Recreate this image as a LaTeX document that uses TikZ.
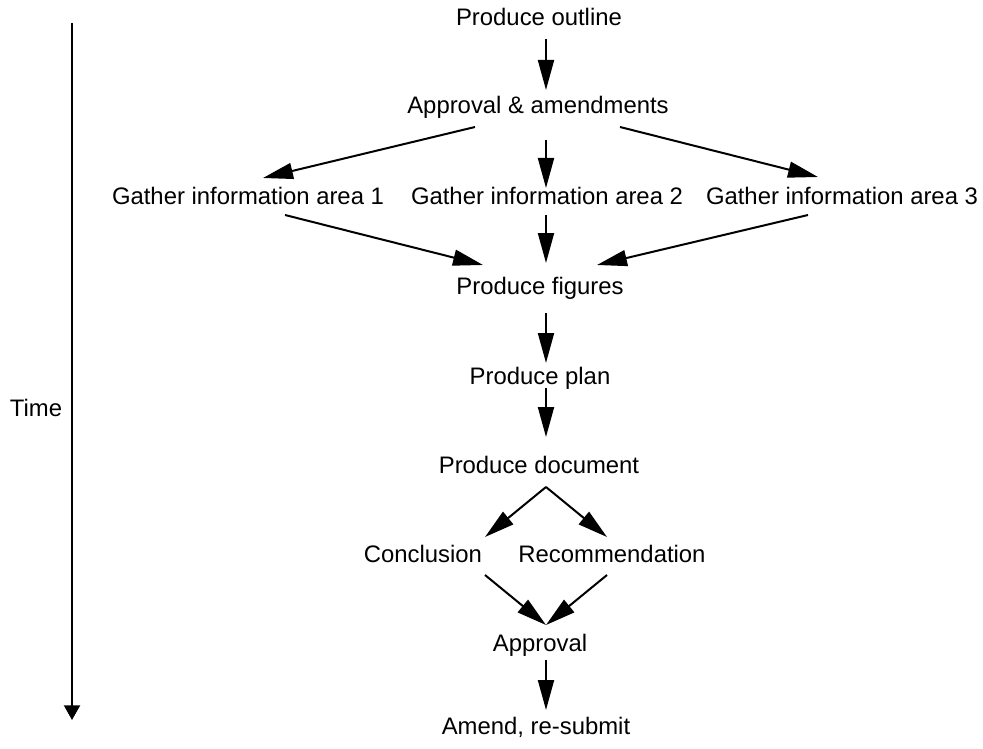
\documentclass[tikz,border=0pt]{standalone}
\usepackage{fontspec}
\setmainfont{Liberation Sans}
\usepackage{tikz}
\usetikzlibrary{arrows.meta}

\begin{document}
\begin{tikzpicture}[x=0.75pt,y=-0.75pt,
  stage/.style={inner sep=0pt,text height=1.13em,text depth=0pt,
    font=\fontsize{17.9}{20}\selectfont},
  flow/.style={line width=1.5pt,-{Triangle[length=22.5pt,width=12pt]}}]
\useasboundingbox (0,0) rectangle (983,749);
% the time line
\coordinate (t0) at (72,23);
\coordinate (t1) at (72,720);
\draw[line width=1.5pt,-{Triangle[length=11pt,width=12pt]}] (t0) -- (t1);
\node[stage] (time) at (36,409) {Time};
% the stages
\node[stage] (outline) at (539,17.5) {Produce outline};
\node[stage] (appr) at (538,106) {Approval \& amendments};
\node[stage] (g1) at (248,197) {Gather information area 1};
\node[stage] (g2) at (547,197) {Gather information area 2};
\node[stage] (g3) at (842,197) {Gather information area 3};
\node[stage] (figs) at (540,287) {Produce figures};
\node[stage] (plan) at (540,377) {Produce plan};
\node[stage] (doc) at (539,466) {Produce document};
\node[stage] (concl) at (423,555) {Conclusion};
\node[stage] (recom) at (612,555) {Recommendation};
\node[stage] (apprv) at (540,644) {Approval};
\node[stage] (amend) at (536,727) {Amend, re-submit};
% the arrows
\draw[flow] ([shift={(7,22)}]outline.center) -- ([shift={(8,-16)}]appr.center);
\draw[flow] ([shift={(8,34)}]appr.center) -- ([shift={(-1,-9)}]g2.center);
\draw[flow] ([shift={(-63,21)}]appr.center) -- ([shift={(15,-19)}]g1.center);
\draw[flow] ([shift={(82,21)}]appr.center) -- ([shift={(-24,-20)}]g3.center);
\draw[flow] ([shift={(37,18)}]g1.center) -- ([shift={(-57,-22)}]figs.center);
\draw[flow] ([shift={(-1,18)}]g2.center) -- ([shift={(6,-24)}]figs.center);
\draw[flow] ([shift={(-34,18)}]g3.center) -- ([shift={(57,-22)}]figs.center);
\draw[flow] ([shift={(6,26)}]figs.center) -- ([shift={(6,-14)}]plan.center);
\draw[flow] ([shift={(6,11)}]plan.center) -- ([shift={(7,-29)}]doc.center);
\draw[flow] ([shift={(7,21)}]doc.center) -- ([shift={(62,-18)}]concl.center);
\draw[flow] ([shift={(7,21)}]doc.center) -- ([shift={(-5,-18)}]recom.center);
\draw[flow] ([shift={(62,20)}]concl.center) -- ([shift={(6,-19)}]apprv.center);
\draw[flow] ([shift={(-5,20)}]recom.center) -- ([shift={(6,-19)}]apprv.center);
\draw[flow] ([shift={(6,16)}]apprv.center) -- ([shift={(10,-17)}]amend.center);
\end{tikzpicture}
\end{document}
